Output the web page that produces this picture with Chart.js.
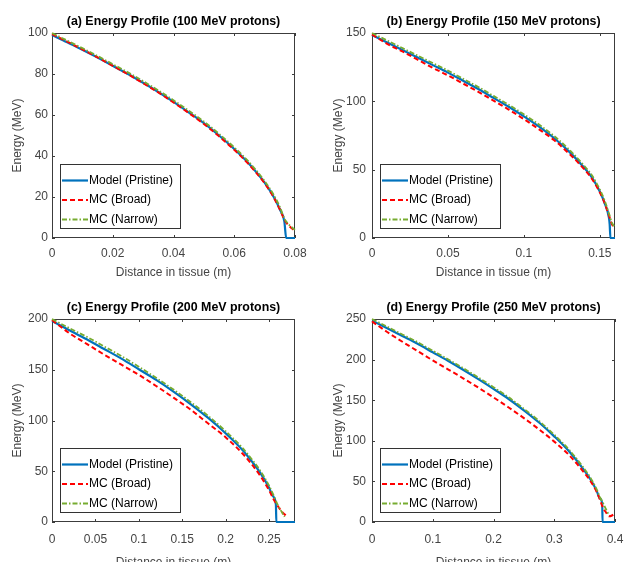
<!DOCTYPE html>
<html>
<head>
<meta charset="utf-8">
<script src="https://cdn.jsdelivr.net/npm/chart.js@4.4.0/dist/chart.umd.min.js"></script>
<style>
  html, body { margin: 0; padding: 0; background: #fff; overflow: hidden; }
  body { width: 624px; height: 562px; position: relative; }
  .panel { position: absolute; }
</style>
</head>
<body>
<div class="panel" style="left:0;top:0"><canvas id="chartA" width="312" height="281"></canvas></div>
<div class="panel" style="left:312px;top:0"><canvas id="chartB" width="312" height="281"></canvas></div>
<div class="panel" style="left:0;top:281px"><canvas id="chartC" width="312" height="300"></canvas></div>
<div class="panel" style="left:312px;top:281px"><canvas id="chartD" width="312" height="300"></canvas></div>
<script>
// series labels
const seriesNames = ['Model (Pristine)', 'MC (Broad)', 'MC (Narrow)'];

// (a) 100 MeV protons
const xModelA = [0, 0.005, 0.01, 0.015, 0.02, 0.025, 0.03, 0.035, 0.04, 0.045, 0.05, 0.055, 0.06, 0.065, 0.07, 0.073, 0.075, 0.0765, 0.0771, 0.08];
const modelA  = [99, 95.5, 91.8, 88, 84, 80, 75.7, 71.2, 66.4, 61.3, 56, 50, 43.4, 36, 27, 20, 14, 8, 0, 0];
const xMcA    = [0, 0.005, 0.01, 0.015, 0.02, 0.025, 0.03, 0.035, 0.04, 0.045, 0.05, 0.055, 0.06, 0.065, 0.07, 0.073, 0.075, 0.0765, 0.078, 0.08];
const broadA  = [99.5, 95.8, 92, 88.1, 84, 79.9, 75.5, 71, 66.1, 61, 55.6, 49.6, 43, 35.6, 26.7, 19.8, 14, 9, 6, 3.5];
const narrowA = [100, 96.3, 92.6, 88.8, 84.8, 80.8, 76.5, 72, 67.2, 62.1, 56.8, 50.8, 44.2, 36.8, 27.8, 21, 15.2, 9.5, 6.5, 4];

// (b) 150 MeV protons
const xModelB = [0, 0.01, 0.02, 0.03, 0.04, 0.05, 0.06, 0.07, 0.08, 0.09, 0.1, 0.11, 0.12, 0.13, 0.14, 0.145, 0.15, 0.153, 0.156, 0.1565, 0.157, 0.16];
const modelB  = [148.5, 143, 137.5, 132, 126.5, 121, 115, 109, 102.5, 96, 89, 81.5, 73, 63, 51, 44, 34, 26, 15, 10, 0, 0];
const xMcB    = [0, 0.01, 0.02, 0.03, 0.04, 0.05, 0.06, 0.07, 0.08, 0.09, 0.1, 0.11, 0.12, 0.13, 0.14, 0.145, 0.15, 0.153, 0.156, 0.158, 0.16];
const broadB  = [149, 142, 136.5, 130.5, 124.5, 119, 113, 107, 100.5, 94, 87, 79.5, 71.5, 61.5, 50, 43, 33.5, 26, 16.5, 10, 7];
const narrowB = [150, 144.5, 139, 133.5, 128, 122.5, 116.5, 110.5, 104, 97.5, 90.5, 83, 74.5, 64.5, 52.5, 45.5, 35.5, 28, 18, 11, 8];

// (c) 200 MeV protons
const xModelC  = [0, 0.02, 0.04, 0.06, 0.08, 0.1, 0.12, 0.14, 0.16, 0.18, 0.2, 0.22, 0.23, 0.24, 0.25, 0.255, 0.258, 0.2585, 0.28];
const modelC   = [198, 189, 180, 170.5, 161, 150.5, 140, 128.5, 116, 102.5, 87.5, 70.5, 60, 48.5, 34, 25, 17, 0, 0];
const xBroadC  = [0, 0.02, 0.04, 0.06, 0.08, 0.1, 0.12, 0.14, 0.16, 0.18, 0.2, 0.22, 0.23, 0.24, 0.25, 0.255, 0.26, 0.265, 0.27];
const broadC   = [199, 186, 175.5, 165, 155, 145, 134, 122.5, 110.5, 97, 83.5, 67, 57, 45.5, 31.5, 23, 16, 10, 6];
const xNarrowC = [0, 0.02, 0.04, 0.06, 0.08, 0.1, 0.12, 0.14, 0.16, 0.18, 0.2, 0.22, 0.23, 0.24, 0.25, 0.255, 0.26, 0.264, 0.268];
const narrowC  = [200, 191, 182.5, 173, 163.5, 153, 142, 130.5, 118, 104.5, 89.5, 72.5, 62, 50.5, 36, 27, 17, 11, 5];

// (d) 250 MeV protons
const xModelD  = [0, 0.025, 0.05, 0.075, 0.1, 0.125, 0.15, 0.175, 0.2, 0.225, 0.25, 0.275, 0.3, 0.325, 0.35, 0.36, 0.37, 0.375, 0.379, 0.3795, 0.4];
const modelD   = [248, 238.5, 229, 219.5, 209, 198.5, 187.5, 176, 164, 151.5, 137.5, 122.5, 105.5, 86.5, 63, 52, 38, 29, 22, 0, 0];
const xBroadD  = [0, 0.025, 0.05, 0.075, 0.1, 0.125, 0.15, 0.175, 0.2, 0.225, 0.25, 0.275, 0.3, 0.325, 0.35, 0.36, 0.37, 0.375, 0.38, 0.385, 0.39, 0.395, 0.4];
const broadD   = [247, 234, 222, 210.5, 199, 188, 177, 165.5, 153.5, 141, 128, 114, 99, 82, 60, 50, 37, 28, 18, 12, 7, 8, 11];
const xNarrowD = [0, 0.025, 0.05, 0.075, 0.1, 0.125, 0.15, 0.175, 0.2, 0.225, 0.25, 0.275, 0.3, 0.325, 0.35, 0.36, 0.37, 0.375, 0.38, 0.385, 0.389];
const narrowD  = [250, 240.5, 231, 221.5, 211, 200.5, 189.5, 178, 166, 153.5, 139.5, 124.5, 107.5, 88.5, 65, 54, 40, 31, 24, 16, 10];

const FONT = '"Liberation Sans", Arial, Helvetica, sans-serif';

function pts(xs, ys) {
    return xs.map((x, i) => ({ x: x, y: ys[i] }));
}

// box round the axes, inward ticks, legend and title (matlab style)
const axesBox = {
    id: 'axesBox',
    beforeDatasetsDraw(chart) {
        const { ctx, chartArea: a, scales } = chart;
        ctx.save();
        ctx.strokeStyle = '#3c3c3c';
        ctx.lineWidth = 1;
        ctx.strokeRect(a.left + 0.5, a.top + 0.5, a.right - a.left - 1, a.bottom - a.top - 1);
        ctx.beginPath();
        scales.x.ticks.forEach(t => {
            const px = Math.round(scales.x.getPixelForValue(t.value)) + 0.5;
            ctx.moveTo(px, a.bottom); ctx.lineTo(px, a.bottom - 3);
            ctx.moveTo(px, a.top); ctx.lineTo(px, a.top + 3);
        });
        scales.y.ticks.forEach(t => {
            const py = Math.round(scales.y.getPixelForValue(t.value)) + 0.5;
            ctx.moveTo(a.left, py); ctx.lineTo(a.left + 3, py);
            ctx.moveTo(a.right, py); ctx.lineTo(a.right - 3, py);
        });
        ctx.stroke();
        ctx.restore();
    },
    afterDatasetsDraw(chart, args, opts) {
        const { ctx, chartArea: a } = chart;
        ctx.save();
        // title centred over the axes
        ctx.fillStyle = '#000';
        ctx.font = 'bold 12.4px ' + FONT;
        ctx.textAlign = 'center';
        ctx.textBaseline = 'middle';
        ctx.fillText(opts.title, (a.left + a.right) / 2, a.top - 11);

        // legend box in the lower left corner
        const bw = 120, bh = 64;
        const bx = a.left + 8, by = a.bottom - 10 - bh;
        ctx.fillStyle = '#fff';
        ctx.fillRect(bx, by, bw, bh);
        ctx.strokeStyle = '#333';
        ctx.lineWidth = 1;
        ctx.strokeRect(bx + 0.5, by + 0.5, bw, bh);
        chart.data.datasets.forEach((ds, i) => {
            const yy = by + 16.5 + i * 19.5;
            ctx.strokeStyle = ds.borderColor;
            ctx.lineWidth = ds.borderWidth;
            ctx.setLineDash(ds.borderDash || []);
            ctx.beginPath();
            ctx.moveTo(bx + 2, yy);
            ctx.lineTo(bx + 28, yy);
            ctx.stroke();
            ctx.setLineDash([]);
            ctx.fillStyle = '#000';
            ctx.font = '12px ' + FONT;
            ctx.textAlign = 'left';
            ctx.fillText(ds.label, bx + 29, yy);
        });
        ctx.restore();
    }
};

function makeChart(id, cfg) {
    const ctx = document.getElementById(id).getContext('2d');
    return new Chart(ctx, {
        type: 'line',
        data: {
            datasets: [{
                label: seriesNames[0],
                data: pts(cfg.xModel, cfg.model),
                borderColor: '#0072BD',
                borderWidth: 2.2,
                order: 3
            }, {
                label: seriesNames[1],
                data: pts(cfg.xBroad, cfg.broad),
                borderColor: '#FF0000',
                borderWidth: 2,
                borderDash: [5, 3],
                order: 2
            }, {
                label: seriesNames[2],
                data: pts(cfg.xNarrow, cfg.narrow),
                borderColor: '#77AC30',
                borderWidth: 1.8,
                borderDash: [5, 2, 1.5, 2],
                order: 1
            }]
        },
        options: {
            responsive: false,
            animation: false,
            clip: 3,
            elements: {
                point: { radius: 0 },
                line: { cubicInterpolationMode: 'monotone', fill: false }
            },
            layout: { padding: { left: 0, right: cfg.padRight, top: cfg.padTop, bottom: 0 } },
            plugins: {
                legend: { display: false },
                tooltip: { enabled: false },
                title: { display: false },
                axesBox: { title: cfg.title }
            },
            scales: {
                x: {
                    type: 'linear',
                    min: 0,
                    max: cfg.xMax,
                    grid: { display: false, drawTicks: false },
                    border: { display: false },
                    ticks: {
                        stepSize: cfg.xStep,
                        includeBounds: false,
                        padding: cfg.xTickPad,
                        color: '#444',
                        font: { family: FONT, size: 12 },
                        maxRotation: 0,
                        callback: v => String(Number(v.toFixed(4)))
                    },
                    title: {
                        display: true,
                        text: 'Distance in tissue (m)',
                        color: '#444',
                        font: { family: FONT, size: 12 },
                        padding: { top: 0, bottom: cfg.xTitleBottom }
                    },
                    afterFit(s) { s.height = cfg.xHeight; s.paddingLeft = 0; s.paddingRight = 0; }
                },
                y: {
                    min: 0,
                    max: cfg.yMax,
                    grid: { display: false, drawTicks: false },
                    border: { display: false },
                    ticks: {
                        stepSize: cfg.yStep,
                        padding: cfg.yTickPad,
                        color: '#444',
                        font: { family: FONT, size: 12 }
                    },
                    title: {
                        display: true,
                        text: 'Energy (MeV)',
                        color: '#444',
                        font: { family: FONT, size: 12 },
                        padding: { top: cfg.yTitleTop, bottom: 0 }
                    },
                    afterFit(s) { s.width = cfg.yWidth; s.paddingTop = 0; s.paddingBottom = 0; }
                }
            }
        },
        plugins: [axesBox]
    });
}

function buildCharts() {
    makeChart('chartA', {
        title: '(a) Energy Profile (100 MeV protons)',
        xModel: xModelA, model: modelA, xBroad: xMcA, broad: broadA, xNarrow: xMcA, narrow: narrowA,
        xMax: 0.08, xStep: 0.02, yMax: 100, yStep: 20,
        padRight: 17, padTop: 33, yWidth: 52, xHeight: 43,
        xTickPad: 8, xTitleBottom: 1, yTitleTop: 10.8, yTickPad: 4
    });
    makeChart('chartB', {
        title: '(b) Energy Profile (150 MeV protons)',
        xModel: xModelB, model: modelB, xBroad: xMcB, broad: broadB, xNarrow: xMcB, narrow: narrowB,
        xMax: 0.16, xStep: 0.05, yMax: 150, yStep: 50,
        padRight: 9, padTop: 33, yWidth: 60, xHeight: 43,
        xTickPad: 8, xTitleBottom: 1, yTitleTop: 19.8, yTickPad: 6
    });
    makeChart('chartC', {
        title: '(c) Energy Profile (200 MeV protons)',
        xModel: xModelC, model: modelC, xBroad: xBroadC, broad: broadC, xNarrow: xNarrowC, narrow: narrowC,
        xMax: 0.28, xStep: 0.05, yMax: 200, yStep: 50,
        padRight: 17, padTop: 38, yWidth: 52, xHeight: 59,
        xTickPad: 10, xTitleBottom: 11.5, yTitleTop: 10.8, yTickPad: 4
    });
    makeChart('chartD', {
        title: '(d) Energy Profile (250 MeV protons)',
        xModel: xModelD, model: modelD, xBroad: xBroadD, broad: broadD, xNarrow: xNarrowD, narrow: narrowD,
        xMax: 0.4, xStep: 0.1, yMax: 250, yStep: 50,
        padRight: 9, padTop: 38, yWidth: 60, xHeight: 59,
        xTickPad: 10, xTitleBottom: 11.5, yTitleTop: 19.8, yTickPad: 6
    });
}

document.addEventListener('DOMContentLoaded', buildCharts);
</script>
</body>
</html>
